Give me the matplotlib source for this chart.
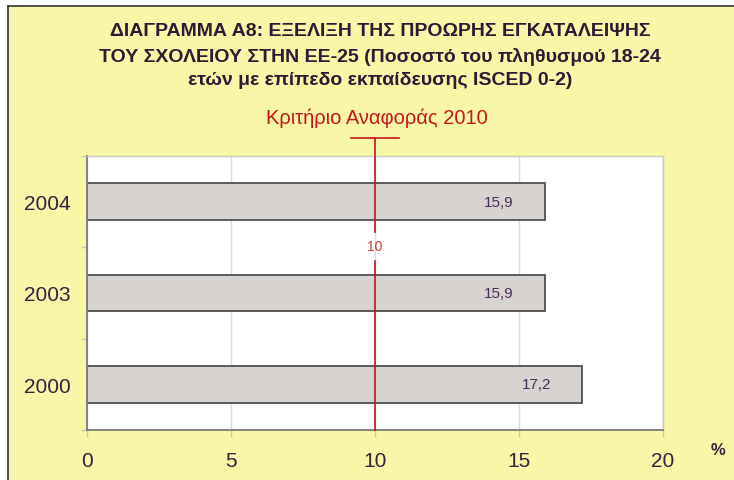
import numpy as np
import matplotlib.pyplot as plt
from matplotlib.patches import Rectangle
from matplotlib.lines import Line2D

# Данные
years = ['2000', '2003', '2004']
values = [17.2, 15.9, 15.9]
value_labels = ['17,2', '15,9', '15,9']
target = 10
target_label = '10'
x_ticks = [0, 5, 10, 15, 20]

title_lines = ['ΔΙΑΓΡΑΜΜΑ Α8: ΕΞΕΛΙΞΗ ΤΗΣ ΠΡΟΩΡΗΣ ΕΓΚΑΤΑΛΕΙΨΗΣ',
               'ΤΟΥ ΣΧΟΛΕΙΟΥ ΣΤΗΝ ΕΕ-25 (Ποσοστό του πληθυσμού 18-24',
               'ετών με επίπεδο εκπαίδευσης ISCED 0-2)']
target_title = 'Κριτήριο Αναφοράς 2010'

# Цвета
yellow = '#f8f6a7'
text_col = '#3a1f3f'
red = '#c4161c'

plt.rcParams['font.family'] = ['Liberation Sans', 'DejaVu Sans']

W, H = 734, 481
fig = plt.figure(figsize=(W / 100, H / 100), dpi=100)
fig.patch.set_facecolor('white')

# жёлтый фон с рамкой
fig.patches.append(Rectangle((8 / W, 0), 1, 1 - 7 / H, transform=fig.transFigure,
                             facecolor=yellow, edgecolor='none', zorder=-5))
fig.lines.append(Line2D([8 / W, 1], [1 - 7 / H, 1 - 7 / H], transform=fig.transFigure,
                        color='#333333', lw=1.2, zorder=-4))
fig.lines.append(Line2D([8 / W, 8 / W], [0, 1 - 7 / H], transform=fig.transFigure,
                        color='#333333', lw=1.2, zorder=-4))

ax = fig.add_axes([87 / W, 50 / H, 576 / W, 274 / H])
ax.set_zorder(1)
ax.set_facecolor('white')

y = np.arange(len(years))
ax.barh(y, values, height=0.405, color='#d6d3d0', edgecolor='#505050', linewidth=1.3, zorder=2)

for yi, v, lab in zip(y, values, value_labels):
    ax.text(v - 1.6, yi, lab, ha='center', va='center', fontsize=11, color='#4a2d55', zorder=4)

ax.set_xlim(0, 20)
ax.set_ylim(-0.5, 2.5)
ax.set_xticks(x_ticks)
ax.set_xticklabels([str(t) for t in x_ticks])
ax.set_yticks(y)
ax.set_yticklabels(years)
ax.set_yticks([-0.5, 0.5, 1.5, 2.5], minor=True)

ax.tick_params(axis='y', which='major', length=0, pad=12, labelsize=15, labelcolor=text_col)
ax.tick_params(axis='y', which='minor', length=4.5, color='#c8c8c0', width=1)
ax.tick_params(axis='x', which='major', length=5, color='#c8c8c0', width=1, pad=10,
               labelsize=15, labelcolor=text_col)

ax.grid(axis='x', color='#dedbdb', lw=1, zorder=1)
ax.set_axisbelow(True)
for s in ['left', 'bottom']:
    ax.spines[s].set_color('#7a7a7a')
    ax.spines[s].set_linewidth(1.3)
for s in ['top', 'right']:
    ax.spines[s].set_color('#c8c8c8')
    ax.spines[s].set_linewidth(1)

# линия критерия
ax.plot([target, target], [1.35, -0.5], color=red, lw=1.2, clip_on=False, zorder=5)
ax.plot([target, target], [1.668, 2.697], color=red, lw=1.2, clip_on=False, zorder=5)
ax.plot([target - 0.85, target + 0.85], [2.697, 2.697], color=red, lw=1.2, clip_on=False, zorder=5)
ax.text(target, 1.51, target_label, ha='center', va='center', fontsize=10, color='#d03a2a')

# заголовки
for txt, py in zip(title_lines, [32, 57, 81]):
    fig.text(380 / W, 1 - py / H, txt, ha='center', va='center', fontsize=14,
             fontweight='bold', color='#2e1a33')
fig.text(377 / W, 1 - 118 / H, target_title, ha='center', va='center', fontsize=14.5,
         fontweight='medium', color=red)
fig.text(718 / W, 1 - 451 / H, '%', ha='center', va='center', fontsize=12,
         fontweight='bold', color=text_col)

fig.savefig('out.png', dpi=100)
